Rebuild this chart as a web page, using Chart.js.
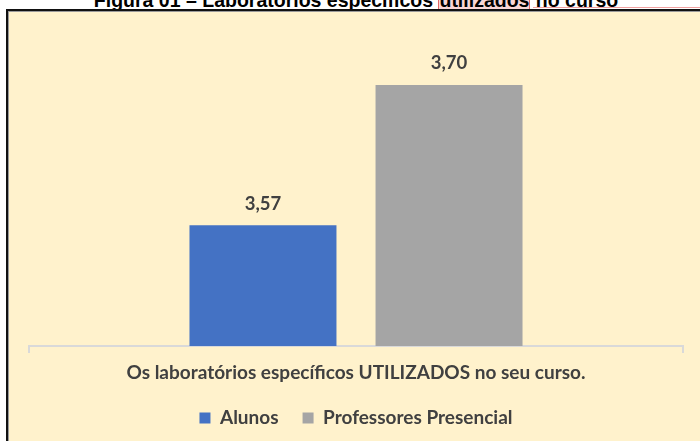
<!DOCTYPE html>
<html>
<head>
<meta charset="utf-8">
<script src="https://cdn.jsdelivr.net/npm/chart.js@4"></script>
<style>
  html, body { margin:0; padding:0; background:#ffffff; width:700px; height:441px; overflow:hidden; }
  #frame { position:absolute; left:6px; top:9px; width:720px; height:460px; background:#FFF2CC;
           border-left:2px solid #111; border-top:2px solid #111; box-sizing:border-box;
           box-shadow: inset 1px 1px 0 #9a9a9a; }
  #title { position:absolute; left:0; width:712px; top:-10px; text-align:center;
           font-family:"Liberation Sans", Arial, sans-serif; font-weight:bold; font-size:19.5px; line-height:20px; color:#000; white-space:nowrap; }
  #title .hl { background:#F9D6D6; border-left:1px solid #E06666; border-right:1px solid #E06666; }
  #redline { position:absolute; left:533px; top:7px; width:170px; height:1px; background:#F0A0A0; }
  #c { position:absolute; left:0; top:0; }
</style>
</head>
<body>
<div id="title">Figura 01 – Laboratórios específicos <span class="hl">utilizados</span> no curso</div>
<div id="redline"></div>
<div id="frame"></div>
<canvas id="c" width="700" height="441"></canvas>
<script>
const categories = ["Os laboratórios específicos UTILIZADOS no seu curso."];
const seriesNames = ["Alunos", "Professores Presencial"];
const alunos = [3.57];
const professoresPresencial = [3.70];
const colors = ["#4472C4", "#A5A5A5"];

const FONT = "Lato, 'Open Sans', sans-serif";
const TEXT = "#404040";

const valueLabels = {
  id: 'valueLabels',
  afterDatasetsDraw(chart) {
    const ctx = chart.ctx;
    ctx.save();
    ctx.font = "bold 18.5px " + FONT;
    ctx.fillStyle = TEXT;
    ctx.textAlign = "center";
    ctx.textBaseline = "middle";
    chart.data.datasets.forEach((ds, i) => {
      const meta = chart.getDatasetMeta(i);
      meta.data.forEach((bar, j) => {
        const v = ds.data[j];
        ctx.fillText(v.toFixed(2).replace('.', ','), bar.x, bar.y - 21.5);
      });
    });
    ctx.restore();
  }
};

new Chart(document.getElementById('c'), {
  type: 'bar',
  data: {
    labels: categories,
    datasets: [
      { label: seriesNames[0], data: alunos, backgroundColor: colors[0] },
      { label: seriesNames[1], data: professoresPresencial, backgroundColor: colors[1] }
    ]
  },
  options: {
    responsive: false,
    animation: false,
    devicePixelRatio: 1,
    categoryPercentage: 0.569,
    barPercentage: 0.79,
    layout: { padding: { left: 29, right: 17, top: 31, bottom: 3.5 } },
    plugins: {
      legend: {
        position: 'bottom',
        labels: {
          font: { family: FONT, size: 19, weight: 'bold' },
          color: TEXT,
          boxWidth: 11, boxHeight: 11,
          padding: 24
        }
      },
      tooltip: { enabled: false },
      title: { display: false }
    },
    scales: {
      y: { display: false, min: 3.458, max: 3.75 },
      x: {
        afterFit(scale) { scale.height = 38.5; },
        grid: { display: true, drawOnChartArea: false, drawTicks: true, tickLength: 7, color: "#D9D9D9", lineWidth: 2, offset: true },
        border: { display: true, color: "#D9D9D9", width: 2 },
        ticks: { font: { family: FONT, size: 19, weight: 'bold' }, color: TEXT, padding: 8.5 }
      }
    }
  },
  plugins: [valueLabels]
});
</script>
</body>
</html>
